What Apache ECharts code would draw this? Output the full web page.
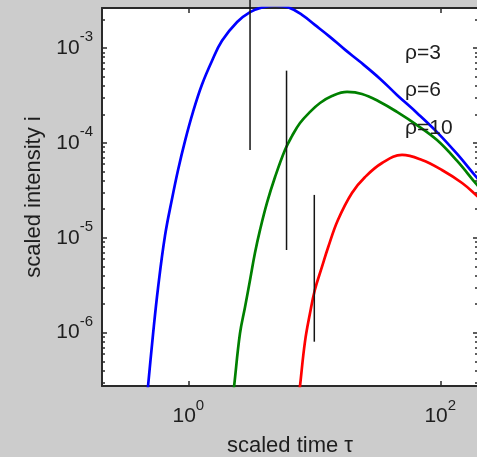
<!DOCTYPE html>
<html>
<head>
<meta charset="utf-8">
<script src="https://cdn.jsdelivr.net/npm/echarts@6/dist/echarts.min.js"></script>
<style>
html,body{margin:0;padding:0;background:#cccccc;}
#chart{width:477px;height:457px;}
</style>
</head>
<body>
<div id="chart"></div>
<script>
// ---- data ----
const blueTau = [0.462, 0.479, 0.525, 0.575, 0.653, 0.742, 0.829, 0.942, 1.09, 1.28, 1.54, 1.85, 2.44, 3.09, 3.85, 4.88, 6.18, 7.99, 10.1, 13.3, 17.5, 23.1, 33.2, 45.3, 65.3, 94.2, 136, 196, 235];
const blueI   = [1.65e-7, 2.74e-7, 9.69e-7, 2.96e-6, 1.05e-5, 2.56e-5, 5.18e-5, 1.05e-4, 2.12e-4, 4.07e-4, 7.29e-4, 1.19e-3, 1.88e-3, 2.39e-3, 2.68e-3, 2.80e-3, 2.69e-3, 2.23e-3, 1.75e-3, 1.31e-3, 9.6e-4, 7.15e-4, 4.75e-4, 3.2e-4, 2.07e-4, 1.30e-4, 7.64e-5, 4.27e-5, 3.27e-5];

const greenTau = [2.22, 2.31, 2.57, 2.82, 3.09, 3.38, 3.71, 4.21, 4.88, 5.85, 6.65, 7.70, 9.25, 11.1, 13.8, 18.2, 23.9, 33.2, 45.3, 65.3, 94.2, 136, 196, 235];
const greenI   = [1.73e-7, 2.74e-7, 9.8e-7, 1.87e-6, 3.59e-6, 6.92e-6, 1.21e-5, 2.33e-5, 4.37e-5, 8.42e-5, 1.18e-4, 1.62e-4, 2.12e-4, 2.63e-4, 3.12e-4, 3.44e-4, 3.28e-4, 2.7e-4, 2.12e-4, 1.54e-4, 1.07e-4, 6.45e-5, 3.6e-5, 2.76e-5];

const redTau = [7.42, 7.70, 8.44, 9.25, 10.1, 11.5, 12.9, 15.4, 19.9, 25.3, 34.5, 49.7, 71.6, 103, 149, 196, 235];
const redI   = [1.77e-7, 2.74e-7, 8.1e-7, 1.61e-6, 2.82e-6, 4.93e-6, 8.0e-6, 1.54e-5, 2.97e-5, 4.37e-5, 6.14e-5, 7.46e-5, 6.6e-5, 5.18e-5, 3.78e-5, 2.76e-5, 2.22e-5];

// vertical marker lines at tau = rho
const markerTau  = [3.09, 6.02, 10.0];
const markerHigh = [3.3e-3, 5.77e-4, 2.83e-5];
const markerLow  = [8.42e-5, 7.44e-6, 8.04e-7];

const seriesNames = ['\u03c1=3', '\u03c1=6', '\u03c1=10'];
const seriesColors = ['#0000ff', '#008000', '#ff0000'];

// axes
const X_MIN = 0.2065, X_MAX = 199.2;
const Y_MIN = 2.744e-7, Y_MAX = 2.638e-3;
const xTickValues = [1, 100];
const yMajorTicks = [1e-6, 1e-5, 1e-4, 1e-3];
const yMinorTicks = [];
[-7, -6, -5, -4, -3].forEach(function (e) {
  for (let k = 2; k <= 9; k++) {
    const v = k * Math.pow(10, e);
    if (v >= Y_MIN && v <= Y_MAX) yMinorTicks.push(v);
  }
});

const FONT = 'Liberation Sans, Arial, Helvetica, sans-serif';
const TXT = '#1e1e1e';
const FRAME = '#2a2a2a';

function pair(xs, ys) { return xs.map(function (x, k) { return [x, ys[k]]; }); }
function powLabel(v) {
  const e = Math.round(Math.log10(v));
  return '{b|10}{s|' + e + '}';
}
const rich = {
  b: { fontSize: 21, lineHeight: 21, fontFamily: FONT, color: TXT, verticalAlign: 'bottom' },
  s: { fontSize: 15, lineHeight: 15, fontFamily: FONT, color: TXT, verticalAlign: 'bottom', padding: [0, 0, 14, 0] }
};

function frameAxis(extra) {
  return Object.assign({
    type: 'log', logBase: 10,
    axisLine: { show: true, onZero: false, lineStyle: { color: FRAME, width: 2 } },
    splitLine: { show: false },
    minorTick: { show: false },
    minorSplitLine: { show: false }
  }, extra);
}

const chart = echarts.init(document.getElementById('chart'), null, { renderer: 'canvas' });

const series = [];
seriesNames.forEach(function (n, k) {
  const xs = [blueTau, greenTau, redTau][k];
  const ys = [blueI, greenI, redI][k];
  series.push({
    name: n, type: 'line', xAxisIndex: 0, yAxisIndex: 0,
    data: pair(xs, ys), showSymbol: false, symbol: 'none', smooth: 0.4,
    lineStyle: { color: seriesColors[k], width: 2.7 }, itemStyle: { color: seriesColors[k] },
    clip: true, z: 3
  });
});
markerTau.forEach(function (t, k) {
  series.push({
    name: 'marker' + k, type: 'line', xAxisIndex: 0, yAxisIndex: 0,
    data: [[t, markerHigh[k]], [t, markerLow[k]]],
    showSymbol: false, symbol: 'none', clip: false,
    lineStyle: { color: '#141414', width: 1.5 }, z: 4
  });
});

chart.setOption({
  animation: false,
  backgroundColor: '#cccccc',
  grid: { left: 102, top: 8, width: 376, height: 378, show: true, backgroundColor: '#ffffff', borderWidth: 0, containLabel: false, outerBoundsMode: 'none' },
  legend: {
    data: seriesNames, orient: 'vertical', left: 394, top: 37.5,
    itemWidth: 0, itemHeight: 0, itemGap: 16.5, selectedMode: false,
    itemStyle: { opacity: 0 }, lineStyle: { opacity: 0 },
    textStyle: { fontSize: 21, lineHeight: 21, color: TXT, fontFamily: FONT }
  },
  xAxis: [
    frameAxis({
      position: 'bottom', min: X_MIN, max: X_MAX,
      axisTick: { show: true, inside: true, length: 5, customValues: xTickValues, lineStyle: { color: FRAME, width: 1.5 } },
      axisLabel: { show: true, customValues: xTickValues, formatter: powLabel, rich: rich, margin: 20, showMinLabel: true, showMaxLabel: true },
      name: 'scaled time \u03c4', nameLocation: 'middle', nameGap: 49,
      nameTextStyle: { fontSize: 22, color: TXT, fontFamily: FONT }
    }),
    frameAxis({
      position: 'top', min: X_MIN, max: X_MAX,
      axisTick: { show: true, inside: true, length: 5, customValues: xTickValues, lineStyle: { color: FRAME, width: 1.5 } },
      axisLabel: { show: false }
    })
  ],
  yAxis: [
    frameAxis({
      position: 'left', min: Y_MIN, max: Y_MAX,
      axisTick: { show: true, inside: true, length: 5, customValues: yMajorTicks, lineStyle: { color: FRAME, width: 1.5 } },
      axisLabel: { show: true, customValues: yMajorTicks, formatter: powLabel, rich: rich, margin: 9 },
      name: 'scaled intensity i', nameLocation: 'middle', nameGap: 56,
      nameTextStyle: { fontSize: 22, color: TXT, fontFamily: FONT }
    }),
    frameAxis({
      position: 'left', min: Y_MIN, max: Y_MAX,
      axisLine: { show: false },
      axisTick: { show: true, inside: true, length: 3, customValues: yMinorTicks, lineStyle: { color: FRAME, width: 1.5 } },
      axisLabel: { show: false }
    }),
    frameAxis({
      position: 'right', min: Y_MIN, max: Y_MAX,
      axisTick: { show: true, inside: true, length: 5, customValues: yMajorTicks, lineStyle: { color: FRAME, width: 1.5 } },
      axisLabel: { show: false }
    }),
    frameAxis({
      position: 'right', min: Y_MIN, max: Y_MAX,
      axisLine: { show: false },
      axisTick: { show: true, inside: true, length: 3, customValues: yMinorTicks, lineStyle: { color: FRAME, width: 1.5 } },
      axisLabel: { show: false }
    })
  ],
  series: series
});
</script>
</body>
</html>
